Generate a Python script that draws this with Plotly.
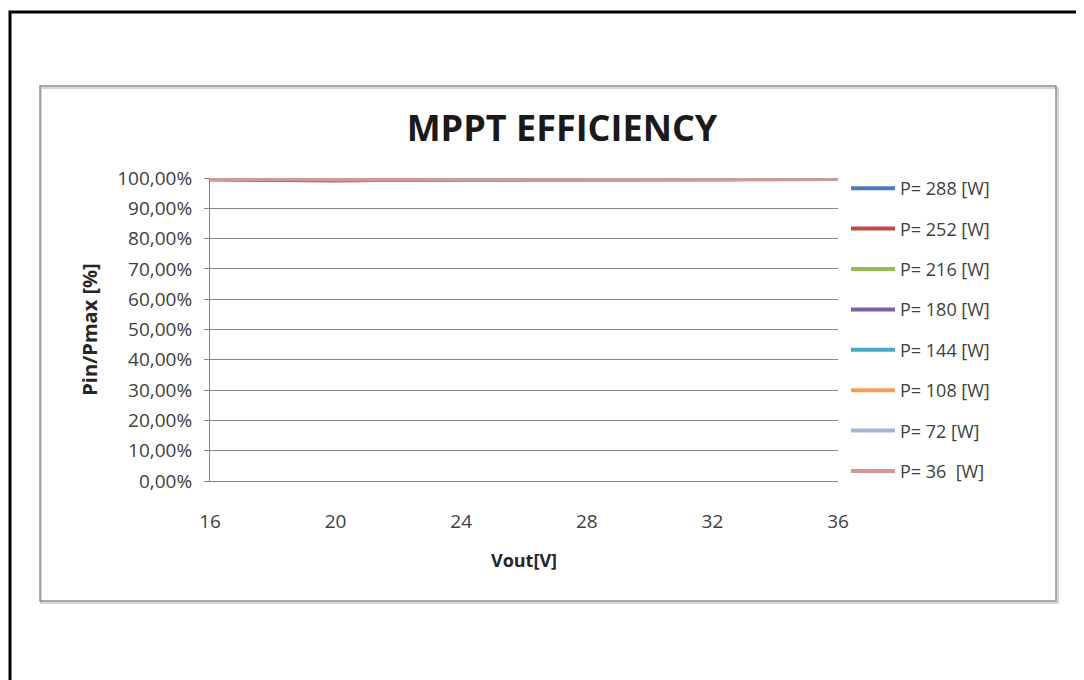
import plotly.graph_objects as go

vout = [16, 18, 20, 22, 24, 26, 28, 30, 32, 34, 36]
series_names = ["P= 288 [W]", "P= 252 [W]", "P= 216 [W]", "P= 180 [W]",
                "P= 144 [W]", "P= 108 [W]", "P= 72 [W]", "P= 36  [W]"]
series_colors = ["#4A7EBB", "#BE4B48", "#98B954", "#7D60A0",
                 "#46AAC5", "#F59D56", "#A2B5D8", "#D49796"]
eff_288 = [0.996, 0.995, 0.994, 0.995, 0.996, 0.996, 0.995, 0.995, 0.996, 0.996, 0.997]
eff_252 = [0.996, 0.994, 0.992, 0.994, 0.996, 0.996, 0.996, 0.995, 0.996, 0.996, 0.997]
eff_216 = [0.997, 0.995, 0.994, 0.995, 0.996, 0.997, 0.996, 0.996, 0.996, 0.997, 0.997]
eff_180 = [0.997, 0.995, 0.994, 0.996, 0.997, 0.997, 0.996, 0.996, 0.997, 0.997, 0.997]
eff_144 = [0.997, 0.996, 0.995, 0.996, 0.997, 0.997, 0.997, 0.996, 0.997, 0.997, 0.998]
eff_108 = [0.997, 0.996, 0.995, 0.996, 0.997, 0.997, 0.997, 0.997, 0.997, 0.997, 0.998]
eff_72 = [0.998, 0.996, 0.996, 0.997, 0.997, 0.998, 0.997, 0.997, 0.997, 0.998, 0.998]
eff_36 = [0.998, 0.997, 0.996, 0.997, 0.998, 0.998, 0.997, 0.997, 0.998, 0.998, 0.998]
series_values = [eff_288, eff_252, eff_216, eff_180, eff_144, eff_108, eff_72, eff_36]

y_ticks = [0, 0.1, 0.2, 0.3, 0.4, 0.5, 0.6, 0.7, 0.8, 0.9, 1.0]
x_ticks = [16, 20, 24, 28, 32, 36]

W, H = 1084, 680
OFF = 8  # page body margin offset
FONT = "'Open Sans', Lato, sans-serif"

fig = go.Figure()
for i, (name, col, vals) in enumerate(zip(series_names, series_colors, series_values)):
    fig.add_trace(go.Scatter(x=vout, y=vals, mode="lines", name=name,
                             line=dict(color=col, width=4),
                             legendgroup=str(i)))

def px_x(p):
    return (p - OFF) / W

def px_y(p):
    return 1 - (p - OFF) / H

fig.update_layout(
    template="none",
    autosize=False,
    width=W, height=H,
    margin=dict(l=0, r=0, t=0, b=0, pad=0, autoexpand=False),
    paper_bgcolor="white", plot_bgcolor="white",
    separators=",.",
    font=dict(family=FONT, size=18, color="#404040"),
    title=dict(text="<b>MPPT EFFICIENCY</b>", x=px_x(562), xanchor="center",
               y=px_y(128), yanchor="middle",
               font=dict(family=FONT, size=36, color="#1a1a1a")),
    xaxis=dict(domain=[px_x(210), px_x(838)], range=[16, 36], automargin=False,
               tickvals=x_ticks, showgrid=False, zeroline=False,
               showline=True, linecolor="#868686", linewidth=1,
               ticks="", ticklabelstandoff=23,
               tickfont=dict(size=19, color="#404040"),
               title=dict(text="<b>Vout[V]</b>", standoff=21,
                          font=dict(size=18, color="#262626"))),
    yaxis=dict(domain=[px_y(481), px_y(178)], range=[0, 1], automargin=False,
               tickvals=y_ticks, tickformat=".2%",
               showgrid=True, gridcolor="#868686", gridwidth=1,
               zeroline=False, showline=True, linecolor="#868686", linewidth=1,
               ticks="outside", ticklen=5, tickcolor="#868686",
               ticklabelstandoff=8,
               tickfont=dict(size=19, color="#404040"),
               title=dict(text="<b>Pin/Pmax [%]</b>", standoff=14,
                          font=dict(size=20, color="#262626"))),
    legend=dict(x=px_x(846), y=px_y(170), xanchor="left", yanchor="top",
                tracegroupgap=14, bgcolor="rgba(0,0,0,0)",
                font=dict(size=18, color="#404040"), itemwidth=44),
    showlegend=True,
    shapes=[
        dict(type="rect", xref="paper", yref="paper",
             x0=px_x(10), x1=px_x(1110), y0=px_y(710), y1=px_y(12),
             line=dict(color="black", width=3), fillcolor="rgba(0,0,0,0)", layer="below"),
        dict(type="rect", xref="paper", yref="paper",
             x0=px_x(41), x1=px_x(1058), y0=px_y(603), y1=px_y(88),
             line=dict(color="#c8c8c8", width=1.5), fillcolor="rgba(0,0,0,0)", layer="below"),
        dict(type="rect", xref="paper", yref="paper",
             x0=px_x(40), x1=px_x(1056), y0=px_y(601), y1=px_y(86),
             line=dict(color="#8c8c8c", width=1.5), fillcolor="rgba(0,0,0,0)", layer="below"),
    ],
)

fig.write_html("out.html")
